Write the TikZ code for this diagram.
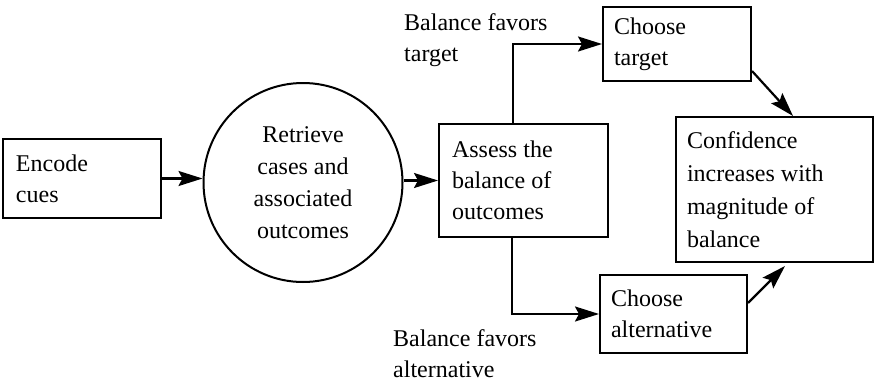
\documentclass[tikz,border=0pt]{standalone}
\usepackage{fontspec}
\setmainfont{Liberation Serif}
\usetikzlibrary{arrows.meta}
\begin{document}
\begin{tikzpicture}[x=1pt,y=-1pt,
  every node/.style={font=\fontsize{24}{31}\selectfont},
  stagebox/.style={draw,line width=2pt,align=flush left,inner ysep=0pt},
  stagecircle/.style={draw,line width=2pt,circle,align=center,minimum size=199pt,inner sep=0pt,
    font=\fontsize{24}{32}\selectfont},
  flowlabel/.style={align=flush left,inner sep=0pt,anchor=north west},
  arr/.style={line width=2.2pt,-{Stealth[length=24pt,width=15pt,inset=4pt]}}]
\useasboundingbox (0,0) rectangle (875,383);

% stages of the judgment process
\node[stagebox,minimum width=158pt,minimum height=79pt,inner xsep=13pt,text width=132pt]
  (enc) at (82,178.5) {Encode\\cues};
\node[stagecircle] (ret) at (303,182.5) {Retrieve\\cases and\\associated\\outcomes};
\node[stagebox,minimum width=169pt,minimum height=113pt,inner xsep=13pt,text width=143pt]
  (assess) at (523.5,180.5) {Assess the\\balance of\\outcomes};
\node[stagebox,minimum width=148pt,minimum height=74pt,inner xsep=11pt,text width=126pt]
  (tgt) at (677,44) {Choose\\target};
\node[stagebox,minimum width=147pt,minimum height=78pt,inner xsep=11pt,text width=125pt]
  (alt) at (673.5,314) {Choose\\alternative};
\node[stagebox,minimum width=197pt,minimum height=145pt,inner xsep=11pt,text width=175pt,
  font=\fontsize{24}{33}\selectfont]
  (conf) at (774.5,189.5) {Confidence\\increases with\\magnitude of\\balance};

% branch labels
\node[flowlabel] (lbtgt) at (404,13.5) {Balance favors\\target};
\node[flowlabel] (lbalt) at (393,329) {Balance favors\\alternative};

% connectors
\draw[arr] (enc.east) -- (enc.east -| ret.west);
\draw[arr] (assess.west -| ret.east) -- (assess.west);
\draw[arr] ([xshift=-10.5pt]assess.north) |- (tgt.west);
\draw[arr] ([xshift=-11.5pt]assess.south) |- (alt.west);
\draw[arr] ([yshift=11pt]tgt.south east) -- ([xshift=18.5pt]conf.north);
\draw[arr] ([yshift=11pt]alt.east) -- ([xshift=10.5pt,yshift=-3pt]conf.south);
\end{tikzpicture}
\end{document}
